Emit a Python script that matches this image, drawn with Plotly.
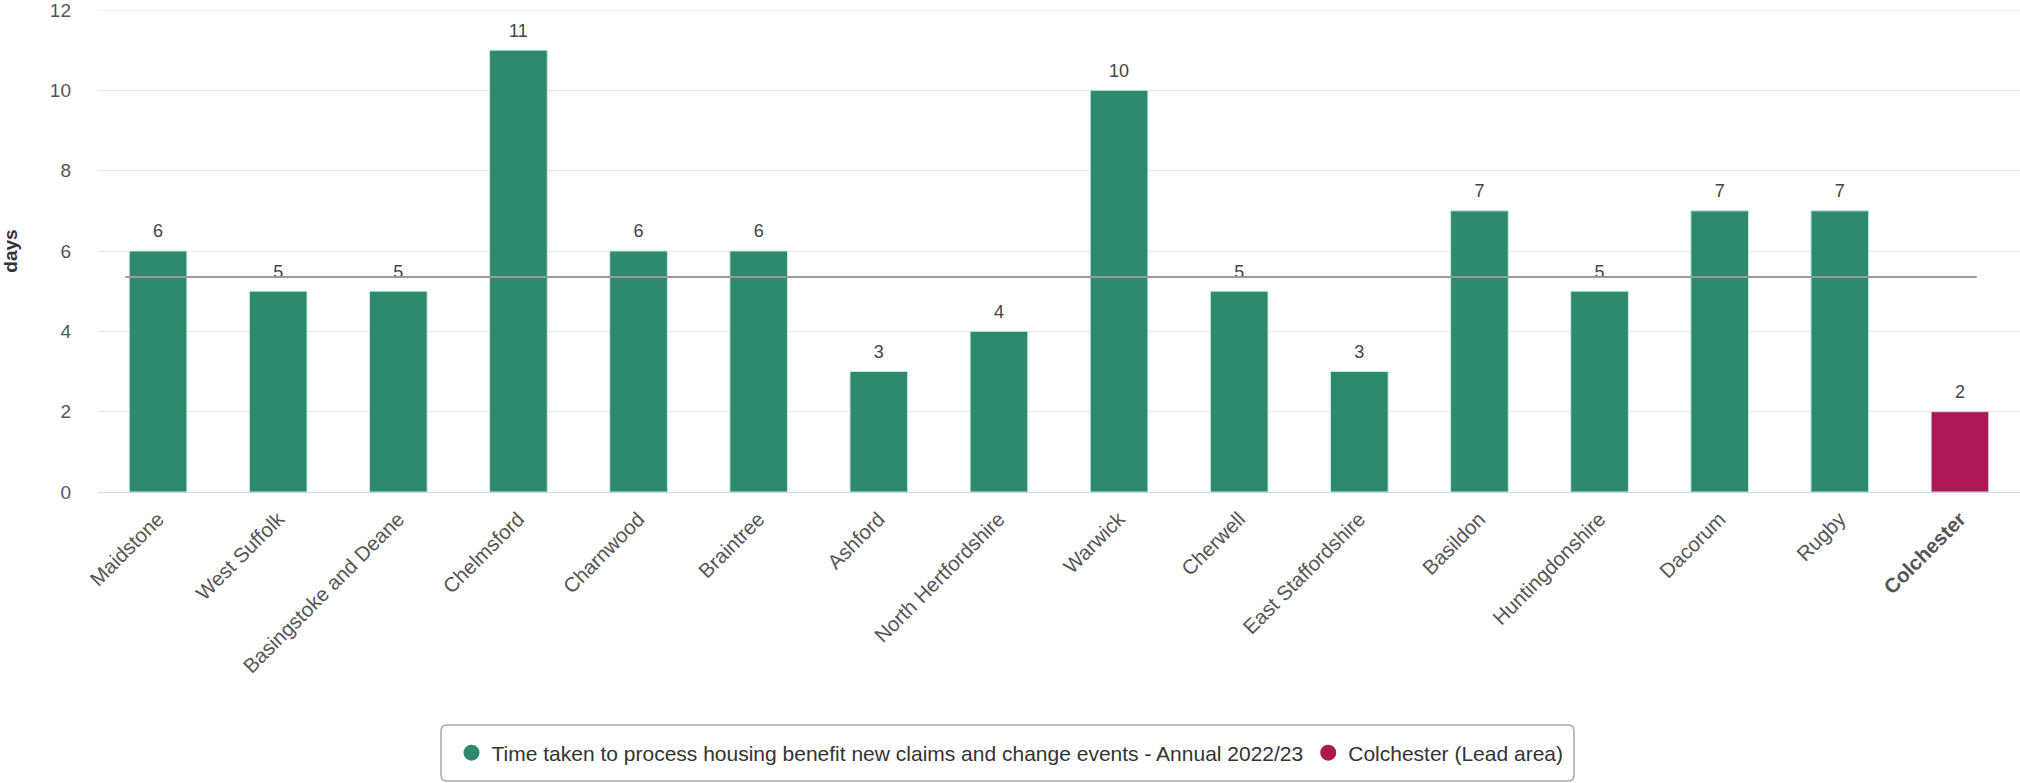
import plotly.graph_objects as go

areas = ["Maidstone", "West Suffolk", "Basingstoke and Deane", "Chelmsford", "Charnwood",
         "Braintree", "Ashford", "North Hertfordshire", "Warwick", "Cherwell",
         "East Staffordshire", "Basildon", "Huntingdonshire", "Dacorum", "Rugby", "Colchester"]
days = [6, 5, 5, 11, 6, 6, 3, 4, 10, 5, 3, 7, 5, 7, 7, 2]
lead_area = "Colchester"
average_days = 5.35
series_name = "Time taken to process housing benefit new claims and change events - Annual 2022/23"
lead_name = "Colchester (Lead area)"
y_ticks = [0, 2, 4, 6, 8, 10, 12]

GREEN = "#2e896d"
RED = "#ad1753"
FONT = "Liberation Sans, Arial, sans-serif"

W, H = 2020, 783
ML, MT, MB = 98, 10, 291

colors = [RED if a == lead_area else GREEN for a in areas]
ticktext = [f"<b>{a}</b>" if a == lead_area else a for a in areas]

fig = go.Figure()
fig.add_trace(go.Bar(
    x=areas, y=days, marker=dict(color=colors, line=dict(color="#bfeee0", width=1)),
    showlegend=False, hoverinfo="x+y",
))
# value labels above bars
fig.add_trace(go.Scatter(
    x=areas, y=days, mode="markers+text", text=[str(v) for v in days],
    textposition="top center", marker=dict(size=13, opacity=0, color="white"),
    textfont=dict(size=18, color="#444444", family=FONT),
    cliponaxis=False, showlegend=False, hoverinfo="skip",
))
# average line
fig.add_shape(type="line", xref="x", yref="y", x0=-0.274, x1=15.14,
              y0=average_days, y1=average_days, line=dict(color="#9a9a9a", width=2))
# top gridline
fig.add_shape(type="line", xref="paper", yref="y", x0=0, x1=1, y0=max(y_ticks), y1=max(y_ticks),
              line=dict(color="#e6e6e6", width=1), layer="below")

# legend frame (rounded rectangle, in paper units)
pw, ph = W - ML, H - MT - MB
bx0, bx1 = (441 - ML) / pw, (1574 - ML) / pw
by0, by1 = -(781 - (H - MB)) / ph, -(725 - (H - MB)) / ph
rx, ry = 6 / pw, 6 / ph
path = (f"M {bx0+rx},{by1} L {bx1-rx},{by1} Q {bx1},{by1} {bx1},{by1-ry} "
        f"L {bx1},{by0+ry} Q {bx1},{by0} {bx1-rx},{by0} L {bx0+rx},{by0} "
        f"Q {bx0},{by0} {bx0},{by0+ry} L {bx0},{by1-ry} Q {bx0},{by1} {bx0+rx},{by1} Z")
fig.add_shape(type="path", xref="paper", yref="paper", path=path,
              line=dict(color="#a8a8a8", width=1.5), fillcolor="rgba(0,0,0,0)", layer="above")

# legend entries (circle symbols)
fig.add_trace(go.Scatter(x=[None], y=[None], mode="markers", name=series_name,
                         marker=dict(symbol="circle", size=19, color=GREEN)))
fig.add_trace(go.Scatter(x=[None], y=[None], mode="markers", name=lead_name,
                         marker=dict(symbol="circle", size=19, color=RED)))

fig.update_layout(
    width=W, height=H,
    margin=dict(l=ML, r=0, t=MT, b=MB),
    paper_bgcolor="white", plot_bgcolor="white",
    font=dict(family=FONT, color="#555555"),
    bargap=0.52,
    showlegend=True,
    legend=dict(orientation="h", xref="container", yref="container",
                x=0.5, xanchor="center", y=(H - 753) / H, yanchor="middle",
                font=dict(size=21, color="#333333", family=FONT),
                borderwidth=0, bgcolor="rgba(0,0,0,0)",
                itemsizing="trace", itemwidth=30, tracegroupgap=0),
    xaxis=dict(tickmode="array", tickvals=areas, ticktext=ticktext, tickangle=-45,
               tickfont=dict(size=20.5, color="#555555", family=FONT),
               ticklabelstandoff=6, showgrid=False, automargin=False,
               showline=True, linecolor="#ccd6eb", linewidth=1,
               range=[-0.5, len(areas) - 0.5]),
    yaxis=dict(range=[0, 12], tickvals=y_ticks, showgrid=True, gridcolor="#e6e6e6",
               gridwidth=1, zeroline=False, automargin=False,
               ticklabeloverflow="allow",
               tickfont=dict(size=19, color="#555555", family=FONT),
               ticklabelstandoff=26,
               title=dict(text="<b>days</b>", font=dict(size=19, color="#333333", family=FONT),
                          standoff=30)),
)

fig.write_html("out.html", config={"displayModeBar": False},
               post_script="document.body.style.margin='0';")
